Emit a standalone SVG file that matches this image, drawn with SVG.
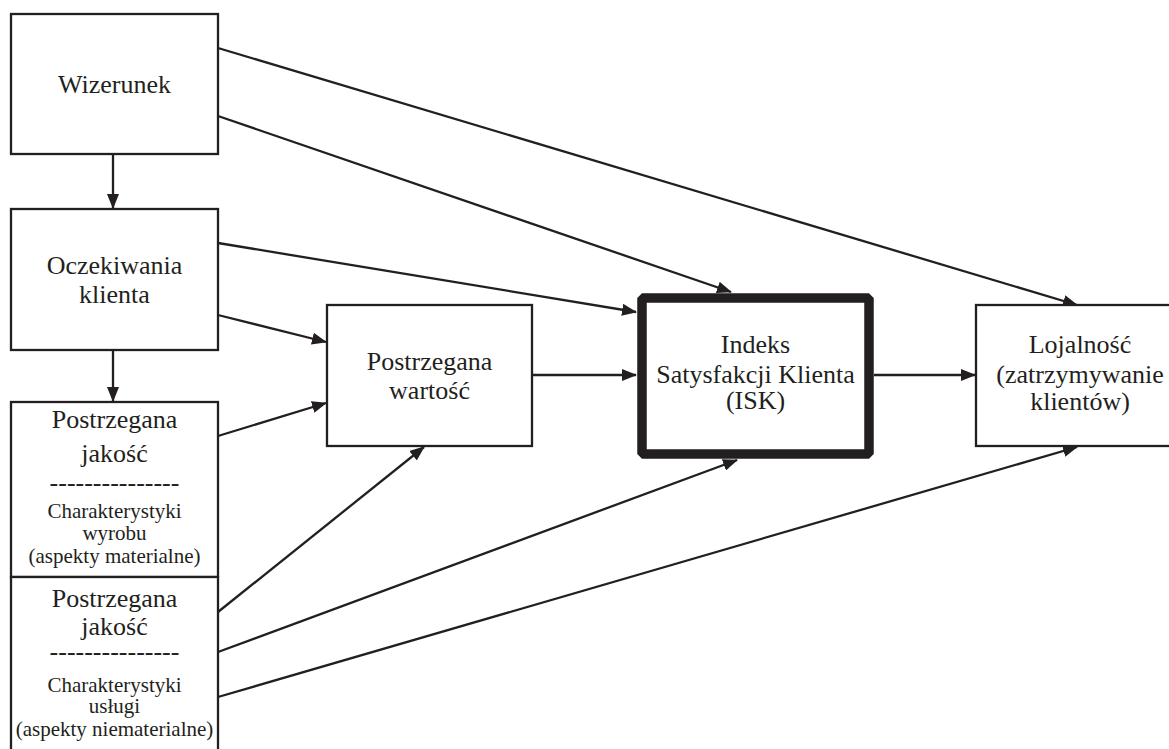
<svg xmlns="http://www.w3.org/2000/svg" width="1169" height="749" viewBox="0 0 1169 749">
<style>
.box{fill:#fff;stroke:#231f20;stroke-width:2.3}
.thick{fill:#fff;stroke:#231f20;stroke-width:9.5;stroke-linejoin:bevel}
.t{font-family:"Liberation Serif","Times New Roman",serif;font-size:26px;fill:#231f20;text-anchor:middle}
.s{font-size:21px}
.c{fill:none;stroke:#231f20;stroke-width:2.3}
</style>
<defs>
<marker id="ah" markerWidth="15" markerHeight="12" refX="14" refY="6" orient="auto" markerUnits="userSpaceOnUse">
<path d="M0,0 L15,6 L0,12 Z" fill="#231f20"/>
</marker>
</defs>
<rect width="1169" height="749" fill="#fff"/>
<g id="connectors">
<line class="c" x1="113" y1="154" x2="113" y2="208" marker-end="url(#ah)"/>
<line class="c" x1="113" y1="350" x2="113" y2="401" marker-end="url(#ah)"/>
<line class="c" x1="218" y1="48" x2="1077" y2="305" marker-end="url(#ah)"/>
<line class="c" x1="218" y1="116" x2="731" y2="292" marker-end="url(#ah)"/>
<line class="c" x1="218" y1="243" x2="636" y2="312" marker-end="url(#ah)"/>
<line class="c" x1="218" y1="315" x2="326" y2="342" marker-end="url(#ah)"/>
<line class="c" x1="532" y1="375" x2="636" y2="375" marker-end="url(#ah)"/>
<line class="c" x1="874" y1="375" x2="975" y2="375" marker-end="url(#ah)"/>
<line class="c" x1="218" y1="436" x2="326" y2="403" marker-end="url(#ah)"/>
<line class="c" x1="218" y1="612" x2="424" y2="447" marker-end="url(#ah)"/>
<line class="c" x1="218" y1="652" x2="737" y2="460" marker-end="url(#ah)"/>
<line class="c" x1="218" y1="697" x2="1077" y2="447" marker-end="url(#ah)"/>
</g>
<g id="wizerunek">
<rect class="box" x="11" y="14" width="207" height="140"/>
<text class="t" x="114.5" y="93">Wizerunek</text>
</g>
<g id="oczekiwania">
<rect class="box" x="11" y="209" width="207" height="141"/>
<text class="t" x="114.5" y="274">Oczekiwania</text>
<text class="t" x="114.5" y="303">klienta</text>
</g>
<g id="jakosc-wyrobu">
<rect class="box" x="11" y="402" width="207" height="175"/>
<text class="t" x="114.5" y="428">Postrzegana</text>
<text class="t" x="114.5" y="462">jakość</text>
<text class="t" x="114.5" y="491">---------------</text>
<text class="t s" x="114.5" y="518">Charakterystyki</text>
<text class="t s" x="114.5" y="540">wyrobu</text>
<text class="t s" x="114.5" y="563">(aspekty materialne)</text>
</g>
<g id="jakosc-uslugi">
<rect class="box" x="11" y="577" width="207" height="190"/>
<text class="t" x="114.5" y="607">Postrzegana</text>
<text class="t" x="114.5" y="635">jakość</text>
<text class="t" x="114.5" y="660">---------------</text>
<text class="t s" x="114.5" y="692">Charakterystyki</text>
<text class="t s" x="114.5" y="713">usługi</text>
<text class="t s" x="114.5" y="736">(aspekty niematerialne)</text>
</g>
<g id="wartosc">
<rect class="box" x="327" y="305" width="205" height="141"/>
<text class="t" x="429.5" y="370">Postrzegana</text>
<text class="t" x="429.5" y="399">wartość</text>
</g>
<g id="isk">
<rect class="thick" x="642" y="298" width="227" height="156"/>
<text class="t" x="755.5" y="353">Indeks</text>
<text class="t" x="755.5" y="383">Satysfakcji Klienta</text>
<text class="t" x="755.5" y="409">(ISK)</text>
</g>
<g id="lojalnosc">
<rect class="box" x="976" y="305" width="210" height="141"/>
<text class="t" x="1080" y="353">Lojalność</text>
<text class="t" x="1080" y="383">(zatrzymywanie</text>
<text class="t" x="1080" y="410">klientów)</text>
</g>
</svg>
